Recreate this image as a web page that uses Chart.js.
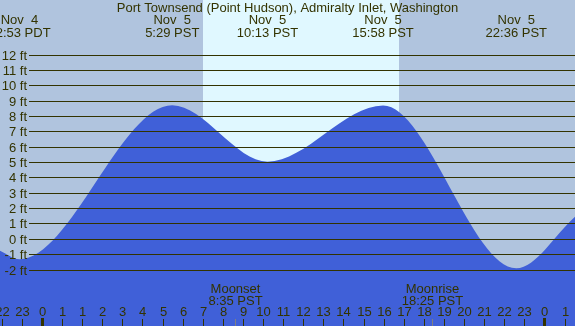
<!DOCTYPE html>
<html lang="en">
<head>
<meta charset="UTF-8">
<title>Port Townsend (Point Hudson) tides</title>
<style>
  html, body { margin: 0; padding: 0; background: #b0c4de; overflow: hidden; }
  canvas { display: block; }
</style>
<script src="https://cdn.jsdelivr.net/npm/chart.js"></script>
</head>
<body>
<canvas id="tideChart" width="575" height="326"></canvas>
<script>
// x values are hours PST on Nov 5 (negative = evening of Nov 4)
const tideHours   = [-2.12, 5.48, 10.22, 15.97, 22.60];
const tideHeights = [-1.30, 8.74, 5.06, 8.72, -1.89];
const tideDates   = ['Nov  4', 'Nov  5', 'Nov  5', 'Nov  5', 'Nov  5'];
const tideTimes   = ['22:53 PDT', '5:29 PST', '10:13 PST', '15:58 PST', '22:36 PST'];

// water level where the picture cuts the curve, left and right
const edgeHours   = [-3.09, 25.52];
const edgeHeights = [-0.74, 1.47];

const footTicks  = [12, 11, 10, 9, 8, 7, 6, 5, 4, 3, 2, 1, 0, -1, -2];
const firstHour  = -3;
const hourLabels = ['22', '23', '0', '1', '1', '2', '3', '4', '5', '6', '7', '8', '9', '10',
                    '11', '12', '13', '14', '15', '16', '17', '18', '19', '20', '21', '22',
                    '23', '0', '1'];
const midnightHours = [-1, 24];

const sunrise = 7.01;
const sunset  = 16.77;

const moonHours = [8.58, 18.42];
const moonNames = ['Moonset', 'Moonrise'];
const moonTimes = ['8:35 PST', '18:25 PST'];

const title = 'Port Townsend (Point Hudson), Admiralty Inlet, Washington';

const NIGHT = '#b0c4de';
const DAY = '#e0f8ff';
const WATER = '#4060d8';
const INK = '#333300';
const FONT = '13px "Liberation Sans", Arial, sans-serif';

// build the point list from the arrays above
const points = [{ x: edgeHours[0], y: edgeHeights[0] }];
tideHours.forEach((h, i) => points.push({ x: h, y: tideHeights[i] }));
points.push({ x: edgeHours[1], y: edgeHeights[1] });

const decorations = {
    id: 'decorations',
    beforeDatasetsDraw(chart) {
        const ctx = chart.ctx;
        const xs = chart.scales.x;
        ctx.save();
        ctx.fillStyle = NIGHT;
        ctx.fillRect(0, 0, chart.width, chart.height);
        const x0 = xs.getPixelForValue(sunrise);
        const x1 = xs.getPixelForValue(sunset);
        ctx.fillStyle = DAY;
        ctx.fillRect(Math.round(x0), 0, Math.round(x1) - Math.round(x0), chart.height);
        ctx.restore();
    },
    afterDatasetsDraw(chart) {
        const ctx = chart.ctx;
        const xs = chart.scales.x;
        const ys = chart.scales.y;
        const W = chart.width;
        ctx.save();
        ctx.font = FONT;
        ctx.fillStyle = INK;
        ctx.strokeStyle = INK;
        ctx.lineWidth = 1;

        // horizontal foot lines + labels
        footTicks.forEach(f => {
            const y = Math.floor(ys.getPixelForValue(f)) + 0.5;
            ctx.beginPath();
            ctx.moveTo(29, y);
            ctx.lineTo(W, y);
            ctx.stroke();
            ctx.textAlign = 'right';
            ctx.textBaseline = 'middle';
            ctx.fillText(f + ' ft', 27, y + 0.5);
        });

        // hour ticks along the bottom
        ctx.textAlign = 'center';
        ctx.textBaseline = 'alphabetic';
        hourLabels.forEach((lab, i) => {
            const h = firstHour + i;
            const px = Math.round(xs.getPixelForValue(h));
            if (midnightHours.includes(h)) {
                ctx.fillRect(px - 1, 318, 3, 8);
            } else {
                ctx.fillRect(px, 319, 1, 7);
            }
            ctx.fillText(lab, px + 0.5, 316);
        });

        // moon events
        moonHours.forEach((h, i) => {
            const px = Math.round(xs.getPixelForValue(h));
            ctx.fillStyle = '#808080';
            ctx.fillRect(px, 319, 1, 7);
            ctx.fillStyle = INK;
            ctx.fillText(moonNames[i], px + 0.5, 292.5);
            ctx.fillText(moonTimes[i], px + 0.5, 304.5);
        });

        // title and tide event labels on top
        ctx.fillText(title, W / 2, 12);
        tideHours.forEach((h, i) => {
            const px = xs.getPixelForValue(h);
            ctx.fillText(tideDates[i], px, 24);
            ctx.fillText(tideTimes[i], px, 36.5);
        });
        ctx.restore();
    }
};

new Chart(document.getElementById('tideChart'), {
    type: 'line',
    data: {
        datasets: [{
            label: 'Tide height (ft)',
            data: points,
            parsing: false,
            fill: 'start',
            backgroundColor: WATER,
            borderColor: WATER,
            borderWidth: 0,
            pointRadius: 0,
            cubicInterpolationMode: 'monotone'
        }]
    },
    options: {
        responsive: false,
        animation: false,
        events: [],
        layout: { padding: 0 },
        plugins: {
            legend: { display: false },
            title: { display: false },
            tooltip: { enabled: false }
        },
        scales: {
            x: { type: 'linear', min: -3.09, max: 25.52, display: false },
            y: { type: 'linear', min: -5.65, max: 15.60, display: false }
        }
    },
    plugins: [decorations]
});
</script>
</body>
</html>
